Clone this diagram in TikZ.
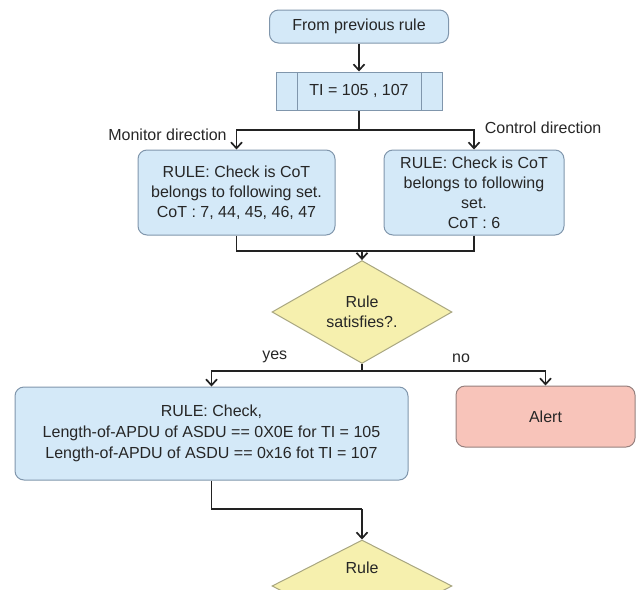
\documentclass[tikz,border=0pt]{standalone}
\usepackage{fontspec}
\setmainfont{Liberation Sans}
\usetikzlibrary{positioning,arrows.meta,shapes.geometric}

\definecolor{boxblue}{RGB}{212,233,248}
\definecolor{edgeblue}{RGB}{128,150,172}
\definecolor{boxyellow}{RGB}{246,240,174}
\definecolor{edgeyellow}{RGB}{168,166,128}
\definecolor{boxred}{RGB}{248,196,186}
\definecolor{edgered}{RGB}{150,128,126}
\definecolor{inkgray}{RGB}{34,34,34}

\begin{document}
\begin{tikzpicture}[x=1pt,y=1pt,on grid,node distance=60pt,line width=1.7pt,draw=inkgray,
    >={Straight Barb[length=6pt,width=11pt]},
    every node/.style={text=black!85,font=\fontsize{16}{20}\selectfont},
    rulebox/.style={draw=edgeblue,fill=boxblue,line width=1pt,rounded corners=9pt,align=center,inner sep=0pt},
    process/.style={draw=edgeblue,fill=boxblue,line width=1pt,minimum width=166pt,minimum height=38pt,
      path picture={\draw[edgeblue,line width=1pt]
        ([xshift=21pt]path picture bounding box.north west) -- ([xshift=21pt]path picture bounding box.south west)
        ([xshift=-21pt]path picture bounding box.north east) -- ([xshift=-21pt]path picture bounding box.south east);}},
    decision/.style={diamond,draw=edgeyellow,fill=boxyellow,line width=1pt,minimum width=180pt,minimum height=92pt,
      inner sep=0pt,align=center},
    alertbox/.style={draw=edgered,fill=boxred,line width=1pt,rounded corners=9pt,inner sep=0pt}]
  \useasboundingbox (0,0) rectangle (636,-589);

  \node[rulebox,minimum width=179pt,minimum height=33pt] (start) at (359,-26.5) {From previous rule};
  \node[process,below=64.5pt of start] (ti) {TI = 105 ,\ 107};
  \node[rulebox,minimum width=197pt,minimum height=85pt,below left=101.5pt and 122.5pt of ti] (monitor)
    {RULE: Check is CoT\\belongs to following set.\\CoT : 7, 44, 45, 46, 47};
  \node[rulebox,minimum width=180pt,minimum height=85pt,below right=101.5pt and 115pt of ti] (control)
    {RULE: Check is CoT\\belongs to following\\set.\\CoT : 6};
  \node[decision,below right=221pt and 3pt of ti] (satisfy) {Rule\\satisfies?.};
  \node[rulebox,font=\fontsize{16}{21}\selectfont,minimum width=393pt,minimum height=93pt,
    below left=121.5pt and 150.5pt of satisfy] (length)
    {RULE: Check,\\Length-of-APDU of ASDU == 0X0E for TI = 105\\Length-of-APDU of ASDU == 0x16 fot TI = 107};
  \node[alertbox,minimum width=179pt,minimum height=61pt,below right=104.5pt and 183.5pt of satisfy] (alert) {Alert};
  \node[decision,below=274pt of satisfy] (next) {Rule\\[16pt]\mbox{}};

  % branch points
  \coordinate[below=39pt of ti] (split);
  \coordinate[above=61pt of satisfy] (merge);
  \coordinate[below=59pt of satisfy] (answer);
  \coordinate[above=77pt of next] (turn);

  \draw[->] (start) -- (ti);
  \draw (ti) -- (split);
  \draw[->] (split) -| node[pos=0.5,anchor=east,xshift=-9pt,yshift=-5pt,inner sep=0pt] {Monitor direction} (monitor);
  \draw[->] (split) -| node[pos=0.5,anchor=west,xshift=10pt,yshift=2pt,inner sep=0pt] {Control direction} (control);
  \draw (monitor) |- (merge);
  \draw (control) |- (merge);
  \draw[->] (merge) -- (satisfy);
  \draw (satisfy) -- (answer);
  \draw[->] (answer) -| node[pos=0.29,above=4pt] {yes} (length);
  \draw[->] (answer) -| node[pos=0.27,above=4pt] {no} (alert);
  \draw (length) |- (turn);
  \draw[->] (turn) -- (next);
\end{tikzpicture}
\end{document}
